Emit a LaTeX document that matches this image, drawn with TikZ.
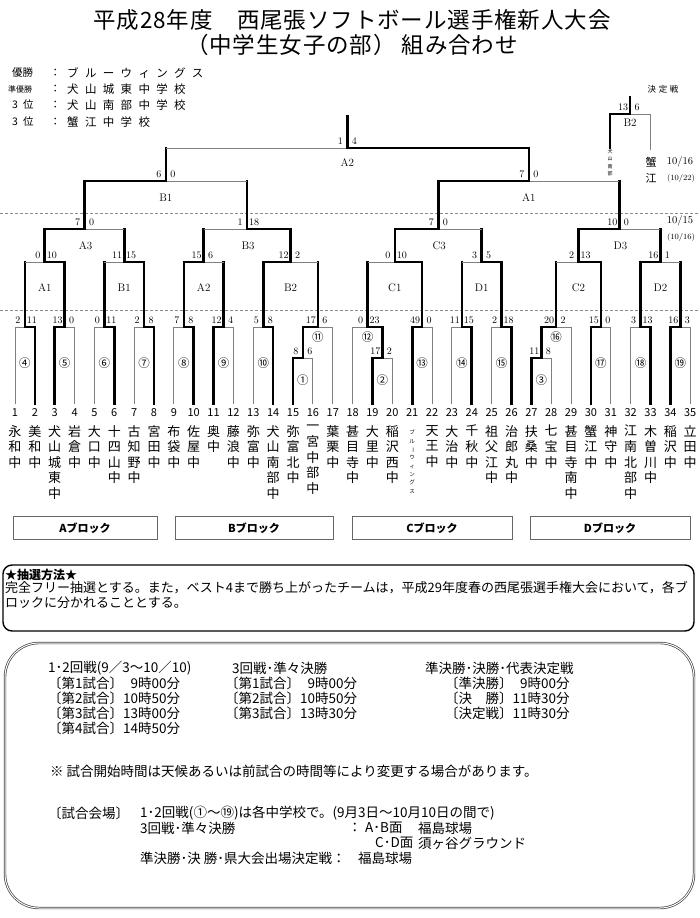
\documentclass[tikz,border=0pt]{standalone}
\usepackage{fontspec}
\usepackage{graphicx}
\usetikzlibrary{calc}
\newfontfamily\jp{Noto Sans CJK JP}
\newfontfamily\jpw[LetterSpace=55]{Noto Sans CJK JP}
\newfontfamily\jpk[LetterSpace=30]{Noto Sans CJK JP}
\newfontfamily\jpt[LetterSpace=4]{Noto Sans CJK JP}

\tikzset{
  thk/.style={line width=2.6pt, line cap=rect},
  thn/.style={line width=0.9pt, black!50},
  dsh/.style={black!45, line width=0.8pt, dash pattern=on 3pt off 2pt},
  sc/.style={font=\fontsize{10}{10}\selectfont, inner sep=0pt, anchor=south, yshift=3pt},
  lbl/.style={font=\fontsize{11}{11}\selectfont, inner sep=0pt},
  circ/.style={font=\jp\fontsize{11.5}{11.5}\selectfont, inner sep=0pt},
  num/.style={font=\jp\fontsize{11}{11}\selectfont, inner sep=0pt},
  nm/.style={font=\jp\fontsize{13}{15.6}\selectfont, align=center, inner sep=0pt, anchor=north},
  tiny/.style={font=\jp\fontsize{5.5}{8.3}\selectfont, align=center, inner sep=0pt, anchor=north},
  blk/.style={draw=black!60, line width=0.8pt, minimum height=23pt, inner sep=0pt,
    font=\jp\bfseries\fontsize{11}{11}\selectfont},
  txt/.style={font=\jp\fontsize{13.5}{13.5}\selectfont, anchor=west, inner sep=0pt},
  res/.style={font=\jp\fontsize{10.5}{10.5}\selectfont, anchor=west, inner sep=0pt},
  val/.style={font=\jpw\fontsize{11.5}{11.5}\selectfont, anchor=west, inner sep=0pt},
  ttl/.style={font=\jpt\fontsize{22.5}{22.5}\selectfont, inner sep=0pt},
}

% one bout: winner, loser, level, name, winner score, loser score, loser line
\newcommand{\bout}[7]{%
  \coordinate (mid) at ($(#1)!.5!(#2)$);
  \coordinate (#4) at (mid |- 0,#3);
  \draw[#7] (#2) -- (#2 |- #4);
  \draw[thn] (#2 |- #4) -- (#4);
  \draw[thk] (#1) |- (#4);
  \node[sc] (#4w) at ($(#4)!7pt!(#1 |- #4)$) {#5};
  \node[sc] (#4l) at ($(#4)!7pt!(#2 |- #4)$) {#6};
}

\begin{document}
\begin{tikzpicture}[x=1pt,y=-1pt]
\useasboundingbox (0,0) rectangle (700,918);

% title
\node[ttl] (title1) at (352,20) {平成28年度　西尾張ソフトボール選手権新人大会};
\node[ttl] (title2) at (352,45) {（中学生女子の部）\hspace{6pt}組み合わせ};

% results
\node[res] (p1) at (12,73) {優勝};
\node[res, font=\jp\fontsize{8}{8}\selectfont] (p2) at (8,89) {準優勝};
\node[res] (p3) at (12,105) {3\hspace{5pt}位};
\node[res] (p4) at (12,122) {3\hspace{5pt}位};
\node[res] (k1) at (50,73) {：};
\node[res] (k2) at (50,89) {：};
\node[res] (k3) at (50,105) {：};
\node[res] (k4) at (50,122) {：};
\node[val] (v1) at (67,73) {ブルーウィングス};
\node[val] (v2) at (67,89) {犬山城東中学校};
\node[val] (v3) at (67,105) {犬山南部中学校};
\node[val] (v4) at (67,122) {蟹江中学校};

% dates
\node[font=\jpk\fontsize{8.5}{8.5}\selectfont] (kettei) at (663,89) {決定戦};
\node[font=\jp\fontsize{11}{16}\selectfont, align=center] (kani) at (651,170) {蟹\\江};
\node[font=\fontsize{10.5}{10.5}\selectfont] (d1) at (680,162) {10/16};
\node[font=\fontsize{8}{8}\selectfont] (d2) at (681,178) {(10/22)};
\node[font=\fontsize{10.5}{10.5}\selectfont] (d3) at (680,221) {10/15};
\node[font=\fontsize{8}{8}\selectfont] (d4) at (681,237) {(10/16)};

% days
\draw[dsh] (0,213) -- (700,213);
\draw[dsh] (0,310) -- (700,310);

% teams
\foreach \i in {1,...,35} {
  \coordinate (t\i) at ({15+19.86*(\i-1)},404);
  \node[num] (n\i) at ({15+19.86*(\i-1)},413) {\i};
}
\foreach \i/\s in {1/永\\和\\中, 2/美\\和\\中, 3/犬\\山\\城\\東\\中, 4/岩\\倉\\中,
  5/大\\口\\中, 6/十\\四\\山\\中, 7/古\\知\\野\\中, 8/宮\\田\\中, 9/布\\袋\\中,
  10/佐\\屋\\中, 11/奥\\中, 12/藤\\浪\\中, 13/弥\\富\\中, 14/犬\\山\\南\\部\\中,
  15/弥\\富\\北\\中, 16/一\\宮\\中\\部\\中, 17/葉\\栗\\中, 18/甚\\目\\寺\\中,
  19/大\\里\\中, 20/稲\\沢\\西\\中, 22/天\\王\\中, 23/大\\治\\中, 24/千\\秋\\中,
  25/祖\\父\\江\\中, 26/治\\郎\\丸\\中, 27/扶\\桑\\中, 28/七\\宝\\中,
  29/甚\\目\\寺\\南\\中, 30/蟹\\江\\中, 31/神\\守\\中, 32/江\\南\\北\\部\\中,
  33/木\\曽\\川\\中, 34/稲\\沢\\中, 35/立\\田\\中}
  \node[nm] (s\i) at ({15+19.86*(\i-1)},425) {\s};
\node[tiny] (s21) at (t21 |- 0,430) {ブ\\ル\\\rotatebox[origin=c]{-90}{ー}\\ウ\\ィ\\ン\\グ\\ス};

% first bouts
\bout{t15}{t16}{358}{r1}{8}{6}{thn}
\bout{t19}{t20}{358}{r2}{17}{2}{thn}
\bout{t27}{t28}{358}{r3}{11}{8}{thn}
\bout{t2}{t1}{327}{r4}{11}{2}{thn}
\bout{t3}{t4}{327}{r5}{13}{0}{thn}
\bout{t6}{t5}{327}{r6}{11}{0}{thn}
\bout{t8}{t7}{327}{r7}{8}{2}{thn}
\bout{t10}{t9}{327}{r8}{8}{7}{thn}
\bout{t11}{t12}{327}{r9}{12}{4}{thn}
\bout{t14}{t13}{327}{r10}{8}{5}{thn}
\bout{r1}{t17}{327}{r11}{17}{6}{thn}
\bout{r2}{t18}{327}{r12}{23}{0}{thn}
\bout{t21}{t22}{327}{r13}{49}{0}{thn}
\bout{t24}{t23}{327}{r14}{15}{11}{thn}
\bout{t26}{t25}{327}{r15}{18}{2}{thn}
\bout{r3}{t29}{327}{r16}{20}{2}{thn}
\bout{t30}{t31}{327}{r17}{15}{0}{thn}
\bout{t33}{t32}{327}{r18}{13}{3}{thn}
\bout{t34}{t35}{327}{r19}{16}{3}{thn}

% 3rd round
\bout{r5}{r4}{262}{qA1}{10}{0}{thk}
\bout{r7}{r6}{262}{qB1}{15}{11}{thk}
\bout{r8}{r9}{262}{qA2}{15}{6}{thk}
\bout{r10}{r11}{262}{qB2}{12}{2}{thk}
\bout{r13}{r12}{262}{qC1}{10}{0}{thk}
\bout{r15}{r14}{262}{qD1}{5}{3}{thk}
\bout{r17}{r16}{262}{qC2}{13}{2}{thk}
\bout{r18}{r19}{262}{qD2}{16}{1}{thk}

% quarter finals
\bout{qA1}{qB1}{229}{qA3}{7}{0}{thk}
\bout{qB2}{qA2}{229}{qB3}{18}{1}{thk}
\bout{qC1}{qD1}{229}{qC3}{7}{0}{thk}
\bout{qC2}{qD2}{229}{qD3}{10}{0}{thk}

% semi finals and final
\bout{qA3}{qB3}{181}{sB1}{6}{0}{thk}
\bout{qC3}{qD3}{181}{sA1}{7}{0}{thk}
\bout{sA1}{sB1}{148}{fA2}{4}{1}{thk}
\draw[thk] (fA2) -- ++(0,-32);

% decider
\coordinate (dL) at (610,148);
\coordinate (dR) at (650,150);
\bout{dL}{dR}{114}{dB2}{13}{6}{thn}
\draw[thk] (dB2) -- ++(0,-17);
\node[tiny, font=\jp\fontsize{5}{7.5}\selectfont] (dLn) at (610,149) {犬\\山\\南\\部};

% labels
\foreach \k/\c in {4/④,5/⑤,6/⑥,7/⑦,8/⑧,9/⑨,10/⑩,13/⑬,14/⑭,15/⑮,17/⑰,18/⑱,19/⑲}
  \node[circ] (c\k) at ($(r\k)+(0,36)$) {\c};
\foreach \k/\c in {11/⑪,12/⑫,16/⑯}
  \node[circ] (c\k) at ($(r\k)+(0,10)$) {\c};
\foreach \k/\c in {1/①,2/②,3/③}
  \node[circ] (c\k) at ($(r\k)+(0,22)$) {\c};
\foreach \k in {A1,B1,A2,B2,C1,D1,C2,D2}
  \node[lbl] (L\k) at ($(q\k)+(0,26)$) {\k};
\foreach \k in {A3,B3,C3,D3}
  \node[lbl] (L\k) at ($(q\k)+(1,17)$) {\k};
\node[lbl] (LsB1) at ($(sB1)+(0,17)$) {B1};
\node[lbl] (LsA1) at ($(sA1)+(0,17)$) {A1};
\node[lbl] (LfA2) at ($(fA2)+(0,15)$) {A2};
\node[lbl] (LdB2) at ($(dB2)+(0,9)$) {B2};

% blocks
\node[blk, minimum width=144pt] (bA) at (85,528) {Aブロック};
\node[blk, minimum width=158pt] (bB) at (254,528) {Bブロック};
\node[blk, minimum width=160pt] (bC) at (432,528) {Cブロック};
\node[blk, minimum width=160pt] (bD) at (610,528) {Dブロック};

% draw rule
\draw[line width=1.4pt, rounded corners=9pt] (3,565) rectangle (694,631);
\node[txt, font=\jp\bfseries\fontsize{12}{12}\selectfont] (star) at (5,575) {★抽選方法★};
\node[txt, font=\jp\fontsize{13}{13}\selectfont] (rule1) at (5,588) {完全フリー抽選とする。また，ベスト4まで勝ち上がったチームは，平成29年度春の西尾張選手権大会において，各ブ};
\node[txt, font=\jp\fontsize{13}{13}\selectfont] (rule2) at (5,603) {ロックに分かれることとする。};

% schedule
\draw[black!75, double=white, double distance=1pt, line width=0.7pt, rounded corners=34pt] (5,643) rectangle (694,908);
\node[txt] (h1) at (48,668) {1･2回戦(9／3～10／10)};
\node[txt] (h2) at (232,668) {3回戦･準々決勝};
\node[txt] (h3) at (425,668) {準決勝･決勝･代表決定戦};
\node[txt] (a1) at (48,683) {〔第1試合〕\phantom{1}9時00分};
\node[txt] (a2) at (48,698) {〔第2試合〕10時50分};
\node[txt] (a3) at (48,713) {〔第3試合〕13時00分};
\node[txt] (a4) at (48,728) {〔第4試合〕14時50分};
\node[txt] (b1) at (225,683) {〔第1試合〕\phantom{1}9時00分};
\node[txt] (b2) at (225,698) {〔第2試合〕10時50分};
\node[txt] (b3) at (225,713) {〔第3試合〕13時30分};
\node[txt] (e1) at (445,683) {〔準決勝〕\phantom{1}9時00分};
\node[txt] (e2) at (445,698) {〔決　勝〕11時30分};
\node[txt] (e3) at (445,713) {〔決定戦〕11時30分};
\node[txt] (note) at (50,771) {※\ 試合開始時間は天候あるいは前試合の時間等により変更する場合があります。};
\node[txt] (g0) at (48,813) {〔試合会場〕};
\node[txt] (g1) at (140,813) {1･2回戦(①～⑲)は各中学校で。(9月3日～10月10日の間で)};
\node[txt] (g2) at (140,828) {3回戦･準々決勝};
\node[txt] (g2c) at (348,828) {：};
\node[txt] (g2a) at (365,828) {A･B面};
\node[txt] (g2b) at (418,828) {福島球場};
\node[txt] (g3a) at (375,843) {C･D面};
\node[txt] (g3b) at (418,843) {須ヶ谷グラウンド};
\node[txt] (g4) at (140,858) {準決勝･決\ 勝･県大会出場決定戦：};
\node[txt] (g4b) at (358,858) {福島球場};
\end{tikzpicture}
\end{document}
